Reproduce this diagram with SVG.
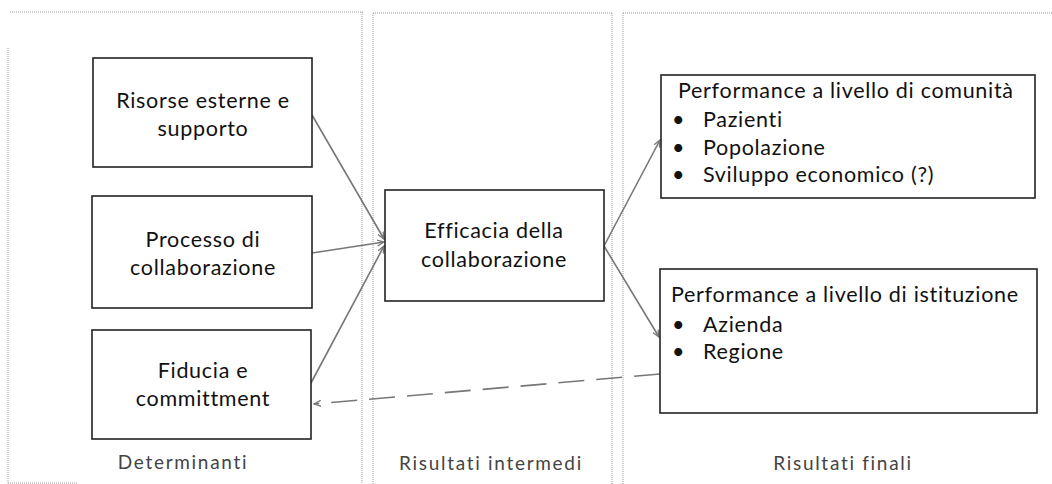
<svg xmlns="http://www.w3.org/2000/svg" width="1052" height="484" viewBox="0 0 1052 484">
<defs>
<style>
.panel{fill:none;stroke:#9a9a9a;stroke-width:1;stroke-dasharray:1 1}
.box{fill:#fff;stroke:#222;stroke-width:1.6}
.t{font-family:Lato,"Open Sans",sans-serif;font-size:21.5px;letter-spacing:0.7px;fill:#111}
.lbl{font-family:Lato,"Open Sans",sans-serif;font-size:19px;letter-spacing:1.7px;fill:#444}
.c{text-anchor:middle}
.conn{fill:none;stroke:#777;stroke-width:1.6}
.dash{stroke-dasharray:26 12}
</style>
<marker id="ah" markerWidth="8" markerHeight="8" refX="7" refY="4" orient="auto" markerUnits="userSpaceOnUse">
<path d="M0,1 L7,4 L0,7" fill="none" stroke="#777" stroke-width="1.3"/>
</marker>
</defs>
<rect width="1052" height="484" fill="#fff"/>
<g id="panels">
<line class="panel" x1="10" y1="12" x2="363" y2="12"/>
<line class="panel" x1="8" y1="48" x2="8" y2="483"/>
<line class="panel" x1="8" y1="483" x2="78" y2="483"/>
<line class="panel" x1="362" y1="12" x2="362" y2="484"/>
<line class="panel" x1="373" y1="13" x2="612" y2="13"/>
<line class="panel" x1="373" y1="13" x2="373" y2="484"/>
<line class="panel" x1="612" y1="13" x2="612" y2="484"/>
<line class="panel" x1="623" y1="13" x2="1052" y2="13"/>
<line class="panel" x1="623" y1="13" x2="623" y2="484"/>
</g>
<g id="connectors">
<line class="conn" x1="312" y1="115" x2="384" y2="239" marker-end="url(#ah)"/>
<line class="conn" x1="312" y1="253" x2="384" y2="242" marker-end="url(#ah)"/>
<line class="conn" x1="311" y1="383" x2="384" y2="246" marker-end="url(#ah)"/>
<line class="conn" x1="604" y1="246" x2="660" y2="140" marker-end="url(#ah)"/>
<line class="conn" x1="604" y1="246" x2="659" y2="337" marker-end="url(#ah)"/>
<line class="conn dash" x1="660" y1="374" x2="314" y2="404" marker-end="url(#ah)"/>
</g>
<g id="n-risorse">
<rect class="box" x="93" y="58" width="219" height="109"/>
<text class="t c" x="203" y="108">Risorse esterne e</text>
<text class="t c" x="203" y="136">supporto</text>
</g>
<g id="n-processo">
<rect class="box" x="92" y="196" width="220" height="112"/>
<text class="t c" x="203" y="247">Processo di</text>
<text class="t c" x="203" y="275">collaborazione</text>
</g>
<g id="n-fiducia">
<rect class="box" x="92" y="330" width="219" height="109"/>
<text class="t c" x="203" y="378">Fiducia e</text>
<text class="t c" x="203" y="406">committment</text>
</g>
<g id="n-efficacia">
<rect class="box" x="385" y="190" width="219" height="111"/>
<text class="t c" x="494" y="238">Efficacia della</text>
<text class="t c" x="494" y="267">collaborazione</text>
</g>
<g id="n-comunita">
<rect class="box" x="661" y="75" width="374" height="123"/>
<text class="t" x="678" y="98">Performance a livello di comunità</text>
<text class="t" x="672" y="127">•</text><text class="t" x="703" y="127">Pazienti</text>
<text class="t" x="672" y="155">•</text><text class="t" x="703" y="155">Popolazione</text>
<text class="t" x="672" y="182">•</text><text class="t" x="703" y="182">Sviluppo economico (?)</text>
</g>
<g id="n-istituzione">
<rect class="box" x="660" y="269" width="377" height="144"/>
<text class="t" x="671" y="302">Performance a livello di istituzione</text>
<text class="t" x="672" y="332">•</text><text class="t" x="703" y="332">Azienda</text>
<text class="t" x="672" y="359">•</text><text class="t" x="703" y="359">Regione</text>
</g>
<g id="labels">
<text class="lbl c" x="183" y="469">Determinanti</text>
<text class="lbl c" x="491" y="470">Risultati intermedi</text>
<text class="lbl c" x="843" y="470">Risultati finali</text>
</g>
</svg>
